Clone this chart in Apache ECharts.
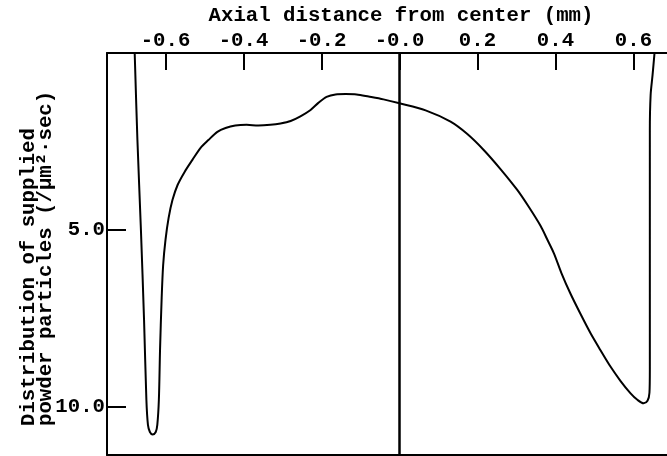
<!DOCTYPE html>
<html>
<head>
<meta charset="utf-8">
<script src="https://cdn.jsdelivr.net/npm/echarts@6/dist/echarts.min.js"></script>
<style>
  html, body { margin: 0; padding: 0; background: #fff; }
  #chart { width: 667px; height: 456px; }
</style>
</head>
<body>
<div id="chart"></div>
<script>
// Axial position (mm) and supplied powder particle distribution (/µm²·sec)
const axialPos = [
  -0.679, -0.672, -0.663, -0.655, -0.649, -0.645, -0.640, -0.633, -0.625, -0.621,
  -0.617, -0.614, -0.610, -0.606, -0.600, -0.592, -0.582, -0.569, -0.551, -0.531,
  -0.510, -0.490, -0.467, -0.446, -0.421, -0.392, -0.362, -0.331, -0.305, -0.279,
  -0.254, -0.228, -0.208, -0.187, -0.164, -0.138, -0.110, -0.079, -0.041, 0.000,
  0.067, 0.131, 0.174, 0.216, 0.259, 0.302, 0.331, 0.362, 0.379, 0.396,
  0.415, 0.438, 0.464, 0.490, 0.515, 0.541, 0.567, 0.592, 0.610, 0.626,
  0.636, 0.641, 0.642, 0.642, 0.642, 0.642, 0.644, 0.649, 0.654
];
const supplyDist = [
  0.00, 2.46, 5.00, 7.54, 9.80, 10.51, 10.71, 10.78, 10.71, 10.51,
  9.80, 8.39, 6.98, 5.99, 5.28, 4.66, 4.15, 3.73, 3.36, 3.02,
  2.68, 2.46, 2.23, 2.12, 2.05, 2.03, 2.05, 2.03, 1.99, 1.92,
  1.79, 1.61, 1.41, 1.24, 1.17, 1.16, 1.17, 1.23, 1.31, 1.42,
  1.62, 1.94, 2.29, 2.74, 3.28, 3.87, 4.34, 4.89, 5.27, 5.66,
  6.21, 6.79, 7.37, 7.92, 8.39, 8.86, 9.27, 9.61, 9.80, 9.90,
  9.83, 9.60, 8.95, 6.98, 4.15, 2.18, 1.19, 0.62, 0.00
];

const xTickValues = [-0.6, -0.4, -0.2, 0, 0.2, 0.4, 0.6];
const xTickLabels = ['-0.6', '-0.4', '-0.2', '-0.0', '0.2', '0.4', '0.6'];
const yTickValues = [5, 10];
const yTickLabels = ['5.0', '10.0'];

const FONT = 'Liberation Mono';
const FS = 20.7;
const chart = echarts.init(document.getElementById('chart'), null, { renderer: 'canvas' });

const points = axialPos.map((x, i) => [x, supplyDist[i]]);
const labelFor = (vals, labels) => v => labels[vals.findIndex(t => Math.abs(t - v) < 1e-9)];

chart.setOption({
  animation: false,
  backgroundColor: '#fff',
  grid: { left: 107, top: 53, right: 0, bottom: 1, show: false },
  xAxis: [{
    type: 'value', position: 'top',
    min: -0.75, max: 0.686,
    axisLine: { show: true, onZero: false, lineStyle: { color: '#000', width: 2 } },
    axisTick: { show: true, inside: true, length: 17, customValues: xTickValues,
      lineStyle: { color: '#000', width: 2 } },
    axisLabel: {
      customValues: xTickValues, margin: 2,
      color: '#000', fontFamily: FONT, fontSize: FS, fontWeight: 'bold',
      formatter: labelFor(xTickValues, xTickLabels)
    },
    splitLine: { show: false }
  }, {
    // lower frame edge
    type: 'value', position: 'bottom',
    min: -0.75, max: 0.686,
    axisLine: { show: true, onZero: false, lineStyle: { color: '#000', width: 2 } },
    axisTick: { show: false }, axisLabel: { show: false }, splitLine: { show: false }
  }],
  yAxis: {
    type: 'value', inverse: true,
    min: 0, max: 11.36,
    axisLine: { show: true, onZero: false, lineStyle: { color: '#000', width: 2 } },
    axisTick: { show: true, inside: true, length: 19, customValues: yTickValues,
      lineStyle: { color: '#000', width: 2 } },
    axisLabel: {
      customValues: yTickValues, margin: 2,
      color: '#000', fontFamily: FONT, fontSize: FS, fontWeight: 'bold',
      formatter: labelFor(yTickValues, yTickLabels)
    },
    splitLine: { show: false }
  },
  series: [{
    type: 'line',
    data: points,
    smooth: 0.3,
    showSymbol: false,
    clip: true,
    lineStyle: { color: '#000', width: 2 },
    markLine: {
      silent: true, symbol: 'none', label: { show: false },
      lineStyle: { color: '#000', width: 2.5, type: 'solid' },
      data: [{ xAxis: 0 }]
    }
  }],
  graphic: [
    {
      type: 'text', position: [401, 16],
      style: {
        text: 'Axial distance from center (mm)',
        fill: '#000', font: 'bold ' + FS + 'px "' + FONT + '"',
        textAlign: 'center', textVerticalAlign: 'middle'
      }
    },
    {
      type: 'text', position: [29, 426], rotation: Math.PI / 2,
      style: {
        text: 'Distribution of supplied',
        fill: '#000', font: 'bold ' + FS + 'px "' + FONT + '"',
        textAlign: 'left', textVerticalAlign: 'middle'
      }
    },
    {
      type: 'text', position: [45.5, 426], rotation: Math.PI / 2,
      style: {
        text: 'powder particles (/µm²·sec)',
        fill: '#000', font: 'bold ' + FS + 'px "' + FONT + '"',
        textAlign: 'left', textVerticalAlign: 'middle'
      }
    }
  ]
});
</script>
</body>
</html>
